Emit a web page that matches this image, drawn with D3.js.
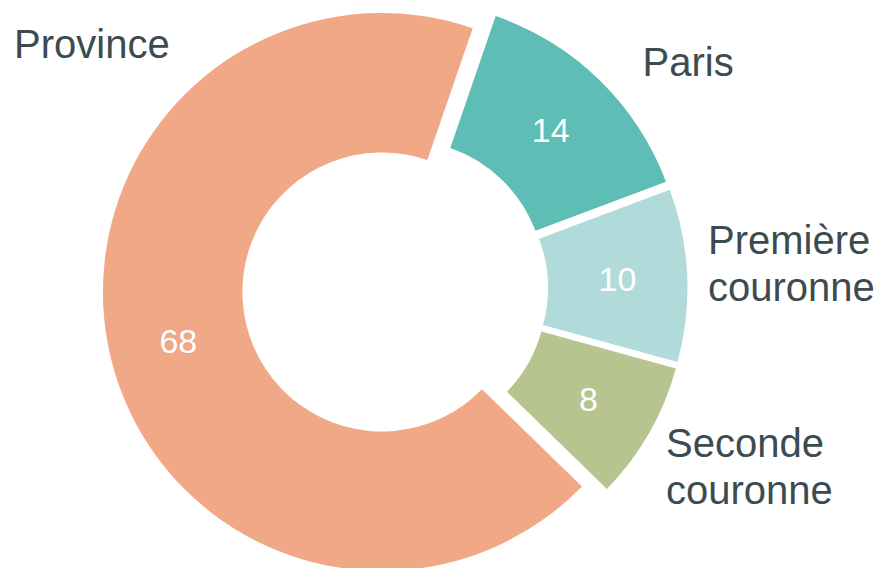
<!DOCTYPE html>
<html>
<head>
<meta charset="utf-8">
<script src="https://cdn.jsdelivr.net/npm/d3@7"></script>
<style>
  body { margin: 0; background: #fff; }
  text { font-family: "Liberation Sans", Arial, sans-serif; }
</style>
</head>
<body>
<div id="chart"></div>
<script>
// data
const categories = ["Paris", "Première couronne", "Seconde couronne", "Province"];
const values = [14, 10, 8, 68];
const colors = ["#5ebdb4", "#b1dbdb", "#b8c48f", "#f0a887"];

// layout (not data)
const width = 877, height = 568;
const cx = 396.5, cy = 288.5;
const outerR = 279, innerR = 139.5;
const explode = [12, 12, 12, 15];
// left / first-baseline of each category label, relative to the chart centre
const labelOffsets = [[246, -213], [311.5, -35], [269.5, 168], [-382.5, -231]];

const svg = d3.select("#chart")
  .append("svg")
  .attr("width", width)
  .attr("height", height);

const pie = d3.pie()
  .sort(null)
  .value(d => d)
  .startAngle(19 * Math.PI / 180)
  .endAngle(19 * Math.PI / 180 + 2 * Math.PI);

const arc = d3.arc()
  .innerRadius(innerR)
  .outerRadius(outerR);

const arcs = pie(values);

const g = svg.append("g")
  .attr("transform", `translate(${cx},${cy})`);

const slice = g.selectAll("g.slice")
  .data(arcs)
  .enter().append("g")
  .attr("class", "slice")
  .attr("transform", (d, i) => {
    const mid = (d.startAngle + d.endAngle) / 2;
    return `translate(${Math.sin(mid) * explode[i]},${-Math.cos(mid) * explode[i]})`;
  });

slice.append("path")
  .attr("d", arc)
  .attr("fill", (d, i) => colors[i]);

slice.append("text")
  .attr("transform", d => `translate(${arc.centroid(d)})`)
  .attr("text-anchor", "middle")
  .attr("dy", "0.36em")
  .attr("font-size", "34px")
  .attr("fill", "#ffffff")
  .text(d => d.data);

// category labels
const labels = g.selectAll("text.cat")
  .data(categories)
  .enter().append("text")
  .attr("class", "cat")
  .attr("x", (d, i) => labelOffsets[i][0])
  .attr("y", (d, i) => labelOffsets[i][1])
  .attr("font-size", "40px")
  .attr("fill", "#3c4b4f");

labels.each(function(d, i) {
  const words = d.split(" ");
  d3.select(this).selectAll("tspan")
    .data(words)
    .enter().append("tspan")
    .attr("x", labelOffsets[i][0])
    .attr("dy", (w, j) => j === 0 ? 0 : "1.19em")
    .text(w => w);
});
</script>
</body>
</html>
